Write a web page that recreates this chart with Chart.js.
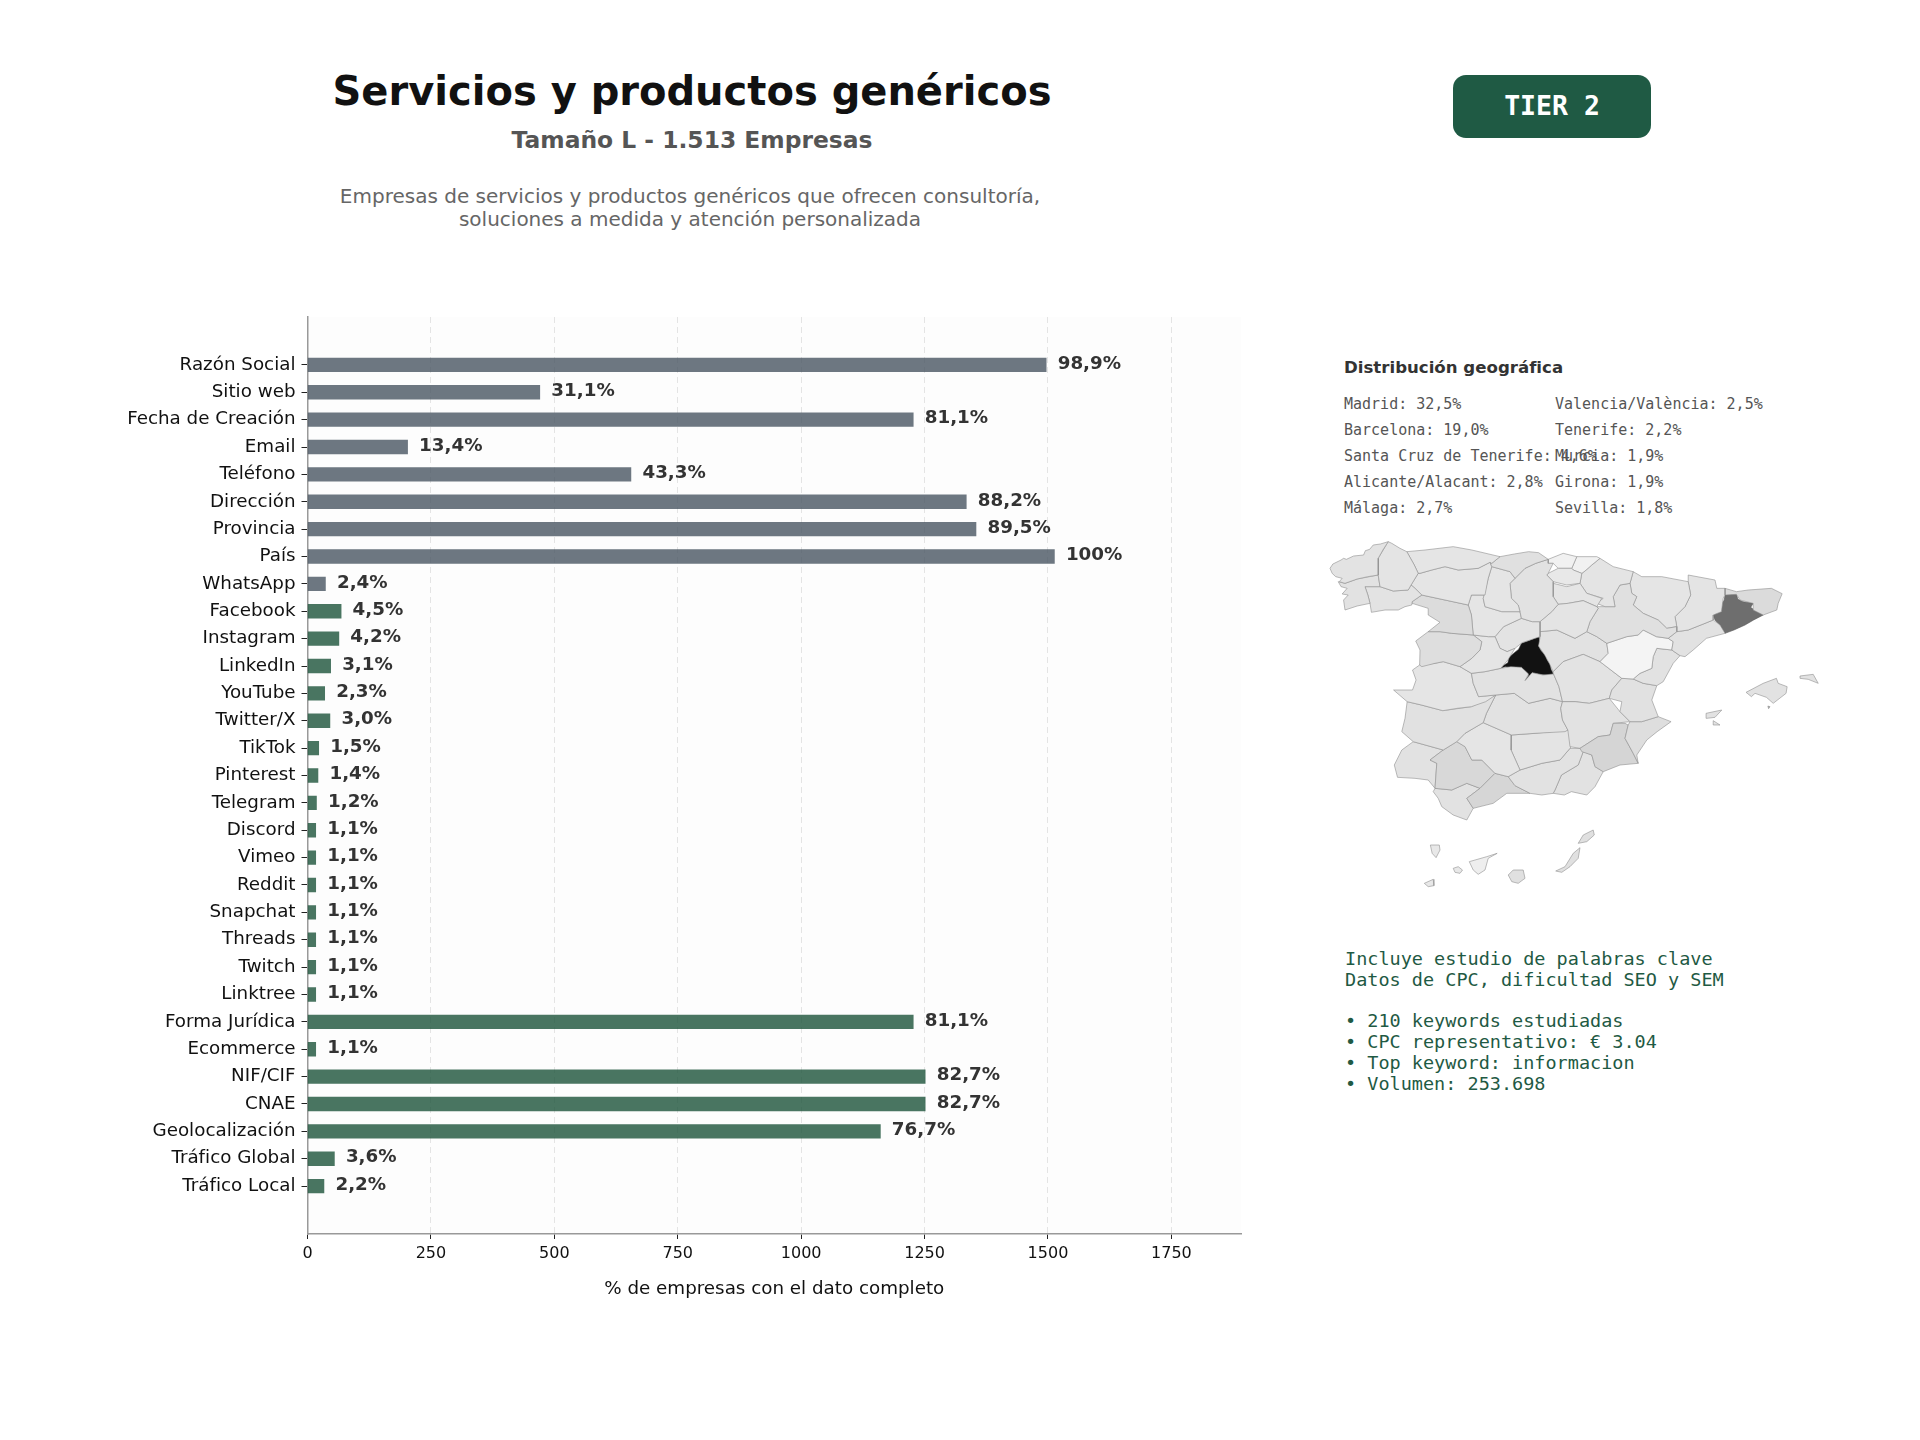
<!DOCTYPE html>
<html lang="es">
<head>
<meta charset="utf-8">
<title>Servicios y productos genéricos</title>
<script src="https://cdn.jsdelivr.net/npm/chart.js@4"></script>
<style>
  html, body { margin: 0; padding: 0; background: #fff; }
  body { position: relative; width: 1920px; height: 1440px; overflow: hidden; font-family: "DejaVu Sans", sans-serif; }
  canvas, .txt { position: absolute; }
  .txt { white-space: pre; }
  .mono { font-family: "DejaVu Sans Mono", monospace; }
  #main-title { left: 292px; width: 800px; top: 67px; text-align: center; font-size: 40px; line-height: 48px; font-weight: bold; color: #111; }
  #sub-title { left: 292px; width: 800px; top: 126px; text-align: center; font-size: 23.4px; line-height: 28px; font-weight: bold; color: #555; }
  #desc { left: 290px; width: 800px; top: 185px; text-align: center; font-size: 20px; line-height: 23px; color: #666; }
  #tier { left: 1453px; top: 75px; width: 198px; height: 63px; line-height: 61px; border-radius: 13px; background: #1f5a44; color: #fff; text-align: center; font-size: 26.5px; font-weight: bold; }
  #geo-title { left: 1344px; top: 357px; font-size: 16.6px; line-height: 22px; font-weight: bold; color: #333; }
  .geo-row { font-size: 15px; line-height: 20px; color: #555; }
  #keywords { left: 1345px; top: 949px; font-size: 18.5px; line-height: 20.8px; color: #1f5a44; }
</style>
</head>
<body>
<div class="txt" id="main-title"></div>
<div class="txt" id="sub-title"></div>
<div class="txt" id="desc"></div>
<div class="txt mono" id="tier"></div>
<div class="txt" id="geo-title"></div>
<div class="txt mono" id="keywords"></div>
<canvas id="bars"></canvas>
<canvas id="map"></canvas>

<script>
//texts
const mainTitle = 'Servicios y productos genéricos';
const totalCompanies = 1513;
const subTitle = 'Tamaño L - 1.513 Empresas';
const description = 'Empresas de servicios y productos genéricos que ofrecen consultoría,\nsoluciones a medida y atención personalizada';
const tierLabel = 'TIER 2';
const geoTitle = 'Distribución geográfica';
const xAxisTitle = '% de empresas con el dato completo';
const keywordLines = [
  'Incluye estudio de palabras clave',
  'Datos de CPC, dificultad SEO y SEM',
  '',
  '• 210 keywords estudiadas',
  '• CPC representativo: € 3.04',
  '• Top keyword: informacion',
  '• Volumen: 253.698'
];

//bar chart data
const fieldNames = ['Razón Social', 'Sitio web', 'Fecha de Creación', 'Email', 'Teléfono', 'Dirección', 'Provincia', 'País', 'WhatsApp',
  'Facebook', 'Instagram', 'LinkedIn', 'YouTube', 'Twitter/X', 'TikTok', 'Pinterest', 'Telegram', 'Discord', 'Vimeo', 'Reddit',
  'Snapchat', 'Threads', 'Twitch', 'Linktree', 'Forma Jurídica', 'Ecommerce', 'NIF/CIF', 'CNAE', 'Geolocalización', 'Tráfico Global', 'Tráfico Local'];
const fieldPercents = [98.9, 31.1, 81.1, 13.4, 43.3, 88.2, 89.5, 100, 2.4,
  4.5, 4.2, 3.1, 2.3, 3.0, 1.5, 1.4, 1.2, 1.1, 1.1, 1.1,
  1.1, 1.1, 1.1, 1.1, 81.1, 1.1, 82.7, 82.7, 76.7, 3.6, 2.2];
const greyFieldCount = 9; //the first fields are grey, the rest green
const xTicks = [0, 250, 500, 750, 1000, 1250, 1500, 1750];

//geographic distribution list
const geoLeft = ['Madrid: 32,5%', 'Barcelona: 19,0%', 'Santa Cruz de Tenerife: 4,6%', 'Alicante/Alacant: 2,8%', 'Málaga: 2,7%'];
const geoRight = ['Valencia/València: 2,5%', 'Tenerife: 2,2%', 'Murcia: 1,9%', 'Girona: 1,9%', 'Sevilla: 1,8%'];

//province outlines, in map units
const aCoruna = [[84,145],[92,132],[115,120],[122,115],[130,118],[150,108],[178,105],[183,92],[195,88],[205,75],[225,72],[247,65],[232,90],[219,115],[219,165],[190,170],[160,177],[126,190],[110,185],[118,175],[100,170],[90,160]];
const lugo = [[247,65],[219,115],[219,165],[224,200],[261,213],[303,210],[311,195],[331,160],[320,135],[299,95],[280,85],[257,70]];
const pontevedra = [[107,185],[126,190],[160,177],[219,165],[224,200],[182,200],[190,225],[196,250],[160,258],[126,270],[122,240],[135,225],[118,222],[132,205],[115,200]];
const ourense = [[182,200],[224,200],[261,213],[303,210],[311,195],[322,205],[341,225],[314,245],[313,255],[294,260],[275,270],[238,270],[200,277],[196,250],[190,225]];
const asturias = [[299,95],[350,90],[429,80],[481,90],[560,110],[537,130],[532,127],[499,145],[443,150],[406,140],[369,150],[336,160],[331,160],[320,135]];
const cantabria = [[560,110],[600,102],[640,95],[668,98],[695,118],[660,130],[630,145],[602,175],[588,155],[537,140],[532,127],[537,130]];
const leon = [[336,160],[369,150],[406,140],[443,150],[499,145],[532,127],[537,140],[527,175],[518,225],[480,225],[471,255],[406,240],[341,225],[322,205],[311,195],[331,160]];
const palencia = [[537,140],[588,155],[602,175],[588,190],[592,235],[611,255],[616,275],[565,275],[518,260],[513,235],[527,175]];
const burgos = [[602,175],[630,145],[660,130],[695,118],[695,130],[709,130],[695,160],[691,165],[709,185],[709,230],[723,253],[705,275],[672,305],[650,305],[620,295],[616,275],[611,255],[592,235],[588,190]];
const zamora = [[314,245],[341,225],[406,240],[471,255],[480,285],[485,345],[425,340],[392,335],[359,335],[392,307],[359,285],[359,265],[314,250]];
const valladolid = [[480,225],[518,225],[513,235],[518,260],[565,275],[616,275],[620,295],[570,320],[546,350],[527,350],[485,345],[480,285],[471,255]];
const salamanca = [[359,335],[392,335],[425,340],[485,345],[509,365],[504,390],[481,415],[448,440],[401,425],[378,430],[341,440],[335,435],[336,390],[324,363]];
const avila = [[485,345],[527,350],[546,350],[560,385],[580,395],[602,385],[582,420],[562,445],[518,455],[480,460],[448,440],[481,415],[504,390],[509,365]];
const segovia = [[546,350],[570,320],[620,295],[650,305],[672,305],[672,335],[672,350],[622,368],[602,385],[580,395],[560,385]];
const soria = [[672,305],[705,275],[723,253],[751,250],[793,242],[831,260],[835,265],[812,305],[803,335],[770,355],[719,330],[672,335]];
const laRioja = [[709,190],[747,200],[784,190],[803,220],[845,235],[831,260],[793,242],[751,250],[723,253],[709,230]];
const alava = [[695,160],[723,145],[761,145],[765,150],[789,160],[784,190],[747,195],[709,185],[691,165]];
const bizkaia = [[695,118],[737,100],[775,110],[761,145],[723,145],[709,130],[695,130]];
const gipuzkoa = [[775,110],[831,110],[840,115],[817,135],[798,153],[789,160],[765,150],[761,145]];
const navarra = [[840,115],[877,140],[933,155],[924,190],[896,195],[877,230],[882,260],[854,260],[831,250],[849,235],[803,220],[784,190],[789,160],[798,153],[817,135]];
const zaragoza = [[896,195],[924,190],[929,220],[943,230],[933,255],[961,280],[1003,300],[1027,325],[1055,320],[1055,335],[1031,355],[998,350],[961,330],[947,345],[915,350],[859,370],[831,350],[803,335],[812,305],[835,265],[831,260],[854,260],[882,260],[877,230]];
const huesca = [[933,155],[957,170],[1013,170],[1087,185],[1094,225],[1078,260],[1050,290],[1055,320],[1027,325],[1003,300],[961,280],[933,255],[943,230],[929,220],[924,190]];
const lleida = [[1087,165],[1162,180],[1167,205],[1190,205],[1190,225],[1185,235],[1180,275],[1157,285],[1157,300],[1134,310],[1087,330],[1055,335],[1055,320],[1050,290],[1078,260],[1094,225],[1087,185]];
const girona = [[1190,205],[1222,215],[1255,210],[1320,205],[1350,221],[1339,250],[1335,270],[1297,285],[1269,270],[1269,250],[1232,240],[1222,223],[1190,225]];
const barcelona = [[1190,225],[1208,222],[1222,223],[1226,238],[1240,245],[1269,250],[1262,262],[1272,270],[1297,285],[1270,300],[1246,315],[1215,330],[1190,340],[1180,325],[1176,315],[1162,300],[1157,285],[1165,278],[1180,275],[1178,255],[1188,240]];
const tarragona = [[1134,310],[1157,300],[1176,315],[1190,340],[1138,355],[1101,390],[1078,410],[1064,407],[1041,390],[1045,365],[1031,355],[1055,335],[1087,330]];
const teruel = [[961,330],[998,350],[1031,355],[1045,365],[1041,390],[999,385],[989,410],[985,445],[952,460],[933,477],[901,475],[840,425],[863,400],[859,370],[915,350],[947,345]];
const castellon = [[1041,390],[1064,407],[1045,430],[1017,485],[999,497],[961,490],[933,477],[952,460],[985,445],[989,410],[999,385]];
const valencia = [[901,475],[933,477],[961,490],[999,497],[985,540],[1003,590],[957,605],[924,605],[896,575],[901,545],[866,535],[873,510]];
const alicante = [[924,605],[957,605],[1003,590],[1039,605],[1000,635],[971,660],[943,705],[947,730],[933,700],[910,655],[919,615]];
const murcia = [[784,685],[835,650],[868,645],[877,610],[910,610],[919,615],[910,655],[933,700],[947,730],[896,735],[849,755],[826,740],[817,705],[789,695]];
const albacete = [[735,545],[770,545],[810,550],[866,535],[896,575],[924,605],[877,610],[868,645],[835,650],[784,685],[756,680],[750,630],[735,600],[730,565]];
const cuenca = [[709,455],[737,425],[793,403],[840,425],[901,475],[873,510],[866,535],[810,550],[770,545],[735,545],[725,500],[710,462]];
const guadalajara = [[672,335],[719,330],[770,355],[803,335],[831,350],[859,370],[863,400],[840,425],[793,403],[737,425],[709,455],[698,430],[685,405],[668,378],[672,352]];
const madrid = [[660,348],[670,352],[672,365],[668,378],[675,392],[688,405],[692,420],[700,432],[703,448],[710,462],[690,466],[668,462],[650,458],[640,470],[630,482],[640,466],[628,452],[615,444],[590,443],[575,440],[562,445],[570,436],[582,428],[585,412],[600,398],[612,388],[620,370],[640,362],[650,358]];
const toledo = [[480,460],[518,455],[562,445],[590,440],[620,442],[640,462],[630,482],[650,458],[680,465],[710,462],[725,500],[735,545],[700,535],[640,550],[600,520],[548,525],[500,530],[485,490]];
const caceres = [[335,435],[378,430],[401,425],[448,440],[480,460],[485,490],[500,530],[548,525],[520,545],[480,560],[440,565],[400,572],[340,555],[300,545],[262,510],[315,510],[325,480],[315,450]];
const badajoz = [[300,545],[340,555],[400,572],[480,560],[548,525],[522,580],[513,608],[462,640],[439,665],[401,690],[317,665],[285,635],[294,595]];
const ciudadReal = [[548,525],[600,520],[640,550],[700,535],[735,545],[730,565],[735,600],[750,630],[742,635],[658,640],[592,645],[513,608],[522,580]];
const cordoba = [[462,640],[513,608],[592,645],[591,690],[616,750],[583,770],[546,760],[509,720],[481,720],[462,680],[439,665]];
const jaen = [[592,645],[658,640],[750,630],[770,660],[756,685],[728,720],[677,730],[616,750],[591,690]];
const granada = [[583,770],[616,750],[677,730],[728,720],[756,685],[784,685],[793,695],[779,735],[732,765],[714,810],[709,820],[677,825],[644,820],[602,797]];
const almeria = [[793,695],[817,705],[826,740],[849,755],[826,800],[803,825],[760,815],[740,825],[709,820],[714,810],[732,765],[779,735]];
const malaga = [[546,760],[583,770],[602,797],[644,820],[579,820],[541,850],[485,865],[467,835],[504,805]];
const sevilla = [[401,690],[439,665],[462,680],[481,720],[509,720],[546,760],[504,805],[467,790],[425,810],[378,805],[383,730],[364,720]];
const huelva = [[285,690],[317,665],[401,690],[364,720],[383,730],[378,805],[359,780],[322,775],[273,772],[264,735]];
const cadiz = [[373,815],[378,805],[425,810],[467,790],[504,805],[467,835],[485,865],[467,900],[429,885],[397,860],[387,835]];
const mallorca = [[1249,517],[1297,490],[1334,475],[1339,490],[1364,500],[1361,520],[1325,550],[1306,532],[1274,520],[1264,530]];
const menorca = [[1400,468],[1437,463],[1451,490],[1423,478],[1400,475]];
const ibiza = [[1137,580],[1181,570],[1162,592],[1139,595]];
const formentera = [[1157,602],[1176,615],[1157,615]];
const cabrera = [[1310,558],[1316,560],[1312,566]];
const laPalma = [[365,975],[390,975],[392,990],[381,1013],[370,1000]];
const tenerife = [[474,1025],[523,1010],[552,1000],[527,1015],[518,1050],[499,1063],[485,1050]];
const laGomera = [[429,1045],[443,1040],[455,1050],[448,1060],[434,1057]];
const elHierro = [[348,1090],[373,1078],[375,1097],[359,1100]];
const granCanaria = [[583,1065],[597,1050],[625,1050],[630,1075],[611,1090],[593,1085]];
const fuerteventura = [[716,1053],[742,1040],[765,1000],[784,983],[779,1015],[756,1040],[733,1057]];
const lanzarote = [[779,970],[793,945],[821,930],[824,945],[803,965]];

//every outline with the grey of its province, in the same order
const mapShapes = [aCoruna, lugo, pontevedra, ourense, asturias, cantabria, leon, palencia, burgos, zamora, valladolid, salamanca, avila, segovia,
  soria, laRioja, alava, bizkaia, gipuzkoa, navarra, zaragoza, huesca, lleida, girona, tarragona, teruel, castellon, valencia, alicante, murcia,
  albacete, cuenca, guadalajara, toledo, caceres, badajoz, ciudadReal, cordoba, jaen, granada, almeria, malaga, sevilla, huelva, cadiz,
  mallorca, menorca, ibiza, formentera, cabrera, laPalma, tenerife, laGomera, elHierro, granCanaria, fuerteventura, lanzarote, barcelona, madrid];
const mapGreys = [227, 228, 226, 227, 229, 224, 229, 229, 226, 220, 229, 222, 229, 227,
  228, 229, 232, 241, 241, 228, 224, 229, 228, 219, 226, 244, 226, 225, 222, 213,
  226, 227, 226, 226, 229, 225, 226, 229, 228, 226, 226, 214, 216, 226, 226,
  226, 226, 226, 226, 170, 232, 238, 232, 232, 224, 224, 224, 110, 18];


//page texts
document.getElementById('main-title').textContent = mainTitle;
document.getElementById('sub-title').textContent = subTitle;
document.getElementById('desc').textContent = description;
document.getElementById('tier').textContent = tierLabel;
document.getElementById('geo-title').textContent = geoTitle;
document.getElementById('keywords').textContent = keywordLines.join('\n');

//two columns of the province list
function addGeoColumn(rows, left) {
  rows.forEach((row, i) => {
    const el = document.createElement('div');
    el.className = 'txt mono geo-row';
    el.style.left = left + 'px';
    el.style.top = (394 + i * 26) + 'px';
    el.textContent = row;
    document.body.appendChild(el);
  });
}
addGeoColumn(geoLeft, 1344);
addGeoColumn(geoRight, 1555);


//formats 98.9 as 98,9% and 100 as 100%
function percentLabel(value) {
  return (value === 100 ? '100' : value.toFixed(1).replace('.', ',')) + '%';
}

//very light background behind the bars
const plotBackground = {
  id: 'plotBackground',
  beforeDraw(chart) {
    const {ctx, chartArea} = chart;
    ctx.save();
    ctx.fillStyle = '#fdfdfd';
    ctx.fillRect(chartArea.left, chartArea.top, chartArea.width, chartArea.height);
    ctx.restore();
  }
};

//percentage written after the end of each bar
const barValueLabels = {
  id: 'barValueLabels',
  afterDatasetsDraw(chart) {
    const {ctx} = chart;
    ctx.save();
    ctx.font = 'bold 18.3px "DejaVu Sans"';
    ctx.fillStyle = '#333';
    ctx.textAlign = 'left';
    ctx.textBaseline = 'middle';
    chart.getDatasetMeta(0).data.forEach((bar, i) => {
      ctx.fillText(percentLabel(fieldPercents[i]), bar.x + 11.5, bar.y - 1);
    });
    ctx.restore();
  }
};

//main chart
const barsCanvas = document.getElementById('bars');
barsCanvas.style.left = '0px';
barsCanvas.style.top = '300px';
barsCanvas.width = 1260;
barsCanvas.height = 1000;

new Chart(barsCanvas, {
  type: 'bar',
  plugins: [plotBackground, barValueLabels],
  data: {
    datasets: [{
      data: fieldPercents.map((pct, i) => ({x: pct * totalCompanies / 100, y: i})),
      backgroundColor: fieldPercents.map((pct, i) => i < greyFieldCount ? 'rgba(73, 85, 97, 0.8)' : 'rgba(27, 82, 58, 0.8)'),
      barThickness: 13.7,
      borderWidth: 0
    }]
  },
  options: {
    indexAxis: 'y',
    responsive: false,
    animation: false,
    events: [],
    layout: {padding: {top: 17, right: 19, left: 0, bottom: 0}},
    plugins: {legend: {display: false}, title: {display: false}, tooltip: {enabled: false}},
    scales: {
      x: {
        type: 'linear',
        min: 0,
        max: 1891,
        afterBuildTicks: (scale) => { scale.ticks = xTicks.map((value) => ({value})); },
        afterFit: (scale) => { scale.height = 66; },
        ticks: {
          color: '#111',
          padding: 5,
          maxRotation: 0,
          font: {family: 'DejaVu Sans', size: 16},
          callback: (value) => String(value)
        },
        grid: {color: '#e4e4e4', lineWidth: 1, tickColor: '#222', tickLength: 5, tickBorderDash: []},
        border: {color: '#999', width: 1.5, dash: [6, 4]},
        title: {display: true, text: xAxisTitle, color: '#111', padding: 0, font: {family: 'DejaVu Sans', size: 18.3}}
      },
      y: {
        type: 'linear',
        reverse: true,
        offset: false,
        min: -1.75,
        max: 31.75,
        afterBuildTicks: (scale) => { scale.ticks = fieldNames.map((name, i) => ({value: i})); },
        afterFit: (scale) => { scale.width = 307.5; },
        ticks: {
          autoSkip: false,
          color: '#111',
          padding: 6,
          maxRotation: 0,
          font: {family: 'DejaVu Sans', size: 18.3},
          callback: (value) => fieldNames[value]
        },
        grid: {offset: false, drawOnChartArea: false, tickColor: '#222', tickLength: 6},
        border: {color: '#999', width: 1.5}
      }
    }
  }
});


//map, one closed filled line per province
const mapCanvas = document.getElementById('map');
mapCanvas.style.left = '1300px';
mapCanvas.style.top = '520px';
mapCanvas.width = 560;
mapCanvas.height = 390;

new Chart(mapCanvas, {
  type: 'scatter',
  data: {
    datasets: mapShapes.map((shape, i) => ({
      data: shape.concat([shape[0]]).map((p) => ({x: p[0], y: p[1]})),
      showLine: true,
      fill: 'shape',
      tension: 0,
      pointRadius: 0,
      borderWidth: 0.6,
      borderColor: i >= mapShapes.length - 2 ? '#555' : '#8f8f8f',
      backgroundColor: `rgb(${mapGreys[i]}, ${mapGreys[i]}, ${mapGreys[i]})`
    }))
  },
  options: {
    responsive: false,
    animation: false,
    events: [],
    layout: {padding: 0},
    plugins: {legend: {display: false}, tooltip: {enabled: false}},
    scales: {
      x: {type: 'linear', display: false, min: 0, max: 1568},
      y: {type: 'linear', display: false, reverse: true, min: 0, max: 1170}
    }
  }
});
</script>
</body>
</html>
